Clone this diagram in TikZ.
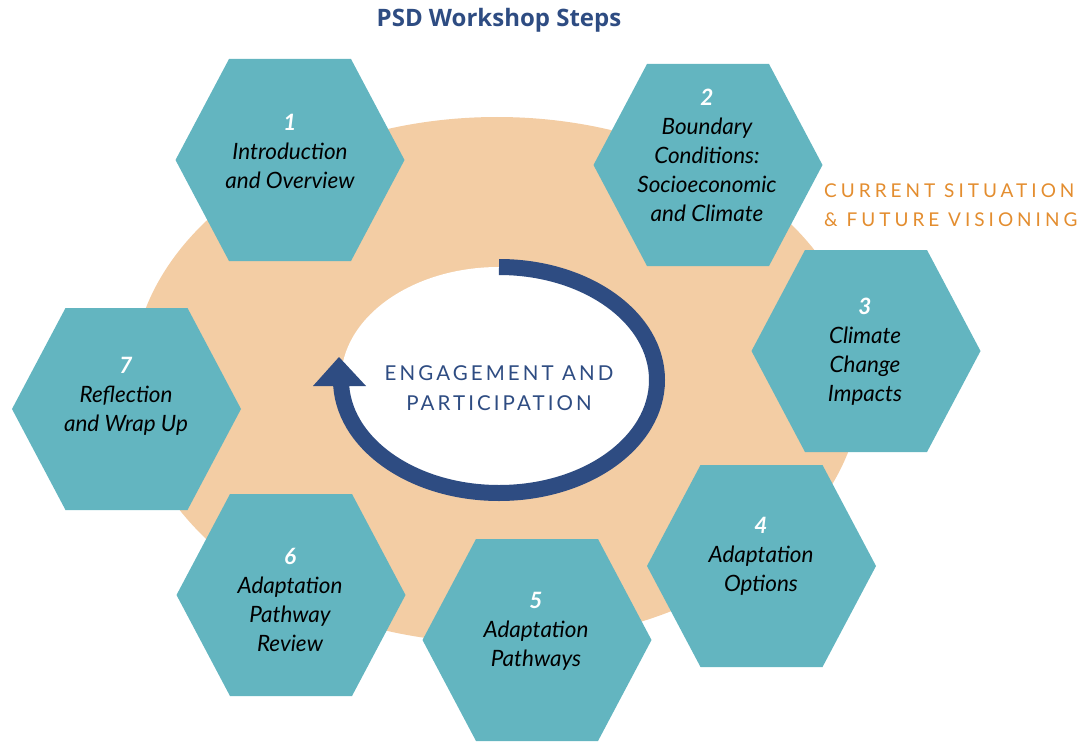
\documentclass[tikz,border=0pt]{standalone}
\usepackage{fontspec}
\setmainfont{Lato}
\newfontfamily\engfont[LetterSpace=15]{Lato}
\newfontfamily\curfont[LetterSpace=21]{Lato}
\newfontfamily\titlefont{Open Sans}
\definecolor{hexfill}{HTML}{63B5C0}
\definecolor{beige}{HTML}{F3CDA4}
\definecolor{cycblue}{HTML}{2E4C82}
\definecolor{curorange}{HTML}{E38D2F}
\newcommand\hexpath[1]{(#1) +(-114.5,0) -- +(-61,-101) -- +(61,-101) -- +(114.5,0) -- +(61,101) -- +(-61,101) -- cycle}
\begin{document}
\begin{tikzpicture}[x=1pt,y=-1pt,
  hexa/.style={fill=hexfill},
  hextext/.style={anchor=north, align=center, inner sep=0pt, text=black,
    font=\fontsize{22.5}{29}\selectfont\itshape},
]
\useasboundingbox (0,0) rectangle (1086,741);
% background ellipse
\fill[beige] (497,380) ellipse [x radius=365, y radius=263];
% inner white ellipse and cycle arrow
\coordinate (cc) at (499,380);
\fill[white] (cc) ellipse [x radius=158, y radius=113];
\draw[cycblue, line width=16pt] (499,267) arc[start angle=-90, end angle=180, x radius=158, y radius=113];
\coordinate (tip) at (339,357);
\fill[cycblue] (313,386) -- (tip) -- (366,386) -- cycle;
\node[text=cycblue, align=center, inner sep=0pt, font=\fontsize{20.5}{30}\selectfont\engfont] (eng) at (499,388) {ENGAGEMENT AND\\PARTICIPATION};
% hexagon centres
\coordinate (c1) at (290,160);
\coordinate (c2) at (708,165);
\coordinate (c3) at (866,351);
\coordinate (c4) at (761.5,566);
\coordinate (c5) at (537,640);
\coordinate (c6) at (291,595);
\coordinate (c7) at (126.5,409);
\foreach \i in {1,...,7} {\fill[hexa] \hexpath{c\i};}
% texts
\node[hextext] (t1) at (290,114) {{\bfseries\color{white}1}\\Introduction\\and Overview};
\node[hextext] (t2) at (707,89) {{\bfseries\color{white}2}\\Boundary\\Conditions:\\Socioeconomic\\and Climate};
\node[hextext] (t3) at (865,298) {{\bfseries\color{white}3}\\Climate\\Change\\Impacts};
\node[hextext] (t4) at (761,517) {{\bfseries\color{white}4}\\Adaptation\\Options};
\node[hextext] (t5) at (536,592) {{\bfseries\color{white}5}\\Adaptation\\Pathways};
\node[hextext] (t6) at (290,548) {{\bfseries\color{white}6}\\Adaptation\\Pathway\\Review};
\node[hextext] (t7) at (126,357) {{\bfseries\color{white}7}\\Reflection\\and Wrap Up};
% title and side label
\node[text=cycblue, inner sep=0pt, font=\fontsize{24}{28}\selectfont\titlefont\bfseries] (title) at (499,20) {PSD Workshop Steps};
\node[text=curorange, anchor=north west, align=left, inner sep=0pt, font=\fontsize{19}{29}\selectfont\curfont] (cur) at (824,184) {CURRENT SITUATION\\\&~FUTURE VISIONING};
\end{tikzpicture}
\end{document}
